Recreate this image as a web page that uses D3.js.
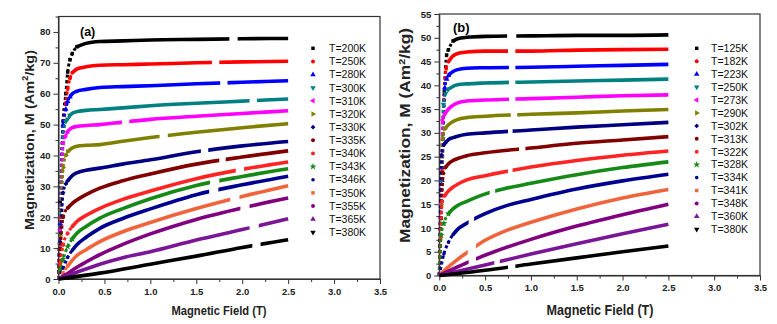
<!DOCTYPE html>
<html>
<head>
<meta charset="utf-8">
<script src="https://cdn.jsdelivr.net/npm/d3@7"></script>
<style>
  body { margin: 0; background: #fff; }
  text { font-family: Arial, "Liberation Sans", sans-serif; }
</style>
</head>
<body>
<svg id="chart" width="777" height="324"></svg>
<script>
// ---- data: [field (T), magnetization (Am2/kg)] ----
const tempsA = ['T=200K','T=250K','T=280K','T=300K','T=310K','T=320K','T=330K','T=335K',
                'T=340K','T=343K','T=346K','T=350K','T=355K','T=365K','T=380K'];
const magA = [
  [[0,0],[0.02,25],[0.05,51],[0.08,60],[0.1,67],[0.125,71],[0.15,73],[0.2,75.2],[0.3,76.3],[0.45,76.9],[0.7,77.1],[1,77.4],[1.5,77.6],[2,77.8],[2.5,77.9]],
  [[0,0],[0.02,20],[0.05,46],[0.08,57],[0.1,61.5],[0.125,65],[0.15,66.8],[0.2,68],[0.3,68.7],[0.45,69.2],[0.7,69.4],[1,69.6],[1.5,70],[2,70.3],[2.5,70.5]],
  [[0,0],[0.02,18],[0.05,50],[0.08,55],[0.1,57.5],[0.125,59],[0.15,60],[0.2,60.8],[0.3,61.4],[0.45,62],[0.7,62.3],[1,62.6],[1.5,63.2],[2,63.7],[2.5,64.2]],
  [[0,0],[0.02,22],[0.05,46],[0.08,51],[0.1,51.8],[0.125,53],[0.15,53.7],[0.2,54.2],[0.3,54.6],[0.45,54.9],[0.7,55.4],[1,56.1],[1.5,56.9],[2,57.6],[2.5,58.3]],
  [[0,0],[0.02,16],[0.05,44],[0.08,46.5],[0.1,47.8],[0.125,48.5],[0.15,49],[0.2,49.4],[0.3,49.7],[0.45,50],[0.7,50.8],[1,51.7],[1.5,52.7],[2,53.6],[2.5,54.5]],
  [[0,0],[0.02,14],[0.05,36],[0.08,40],[0.1,41.2],[0.125,41.9],[0.15,42.4],[0.2,43],[0.3,43.3],[0.45,43.5],[0.7,44.6],[1,45.8],[1.5,47.5],[2,49],[2.5,50.3]],
  [[0,0],[0.02,12],[0.05,28],[0.08,30.8],[0.1,31.8],[0.15,33.5],[0.2,34.4],[0.3,35.2],[0.45,35.9],[0.7,37.2],[1,38.6],[1.5,41.2],[2,43.1],[2.5,44.5]],
  [[0,0],[0.02,10],[0.05,20],[0.1,23],[0.15,24.5],[0.2,25.6],[0.3,27.3],[0.45,29.4],[0.7,31.8],[1,34],[1.5,37.2],[2,39.5],[2.5,41.5]],
  [[0,0],[0.02,5],[0.05,11],[0.1,14.8],[0.15,17],[0.2,18.6],[0.3,20.6],[0.45,22.9],[0.7,25.8],[1,28.5],[1.5,32.5],[2,35.5],[2.5,37.9]],
  [[0,0],[0.02,3],[0.05,6.5],[0.1,10.5],[0.15,13],[0.2,14.8],[0.3,17],[0.45,19.7],[0.7,22.8],[1,26],[1.5,30.3],[2,33.2],[2.5,35.7]],
  [[0,0],[0.05,3.5],[0.1,7],[0.15,9.3],[0.2,11.1],[0.3,13.5],[0.45,16.4],[0.7,19.6],[1,22.7],[1.5,27.3],[2,30.5],[2.5,33.3]],
  [[0,0],[0.05,2],[0.1,4.2],[0.2,7.6],[0.3,9.5],[0.45,12.1],[0.7,15.3],[1,18.3],[1.5,22.8],[2,26.7],[2.5,30.2]],
  [[0,0],[0.1,1.8],[0.2,3.8],[0.3,5.5],[0.45,7.9],[0.7,11.2],[1,14.6],[1.5,19.3],[2,23],[2.5,26.2]],
  [[0,0],[0.2,2.2],[0.45,4.8],[0.7,6.9],[1,8.8],[1.5,12.6],[2,16],[2.5,19.5]],
  [[0,0],[0.45,1.9],[1,4.8],[1.5,7.4],[2,10.2],[2.5,12.7]]
];
// field ranges with no measured points (the breaks in each curve)
const gapsA = [[[1.86,1.95]],[[1.67,1.75]],[[1.76,1.84]],[[2.08,2.16]],[[0.69,0.77]],[[1.10,1.19]],[[1.55,1.63]],
               [[1.75,1.82]],[[1.93,2.02]],[[1.65,1.75]],[[1.64,1.74]],[[1.87,1.97]],[[1.98,2.08]],[[2.08,2.18]],[[2.11,2.20]]];

const tempsB = ['T=125K','T=182K','T=223K','T=250K','T=273K','T=290K','T=302K','T=313K',
                'T=322K','T=328K','T=334K','T=341K','T=348K','T=360K','T=380K'];
const magB = [
  [[0,0],[0.03,25],[0.055,38.7],[0.08,46.4],[0.1,47.5],[0.15,49.3],[0.2,49.8],[0.3,50.1],[0.5,50.3],[1,50.4],[1.5,50.5],[2,50.5],[2.5,50.6]],
  [[0,0],[0.03,22],[0.05,37],[0.075,43.5],[0.1,45],[0.15,46.2],[0.2,46.7],[0.3,47],[0.5,47.2],[1,47.2],[1.5,47.4],[2,47.5],[2.5,47.6]],
  [[0,0],[0.03,20],[0.06,39.5],[0.08,41.3],[0.1,42.1],[0.15,42.9],[0.2,43.3],[0.3,43.6],[0.5,43.7],[1,43.8],[1.5,44],[2,44.2],[2.5,44.4]],
  [[0,0],[0.025,20],[0.045,36],[0.07,38.3],[0.1,39.2],[0.15,39.8],[0.2,40.1],[0.3,40.3],[0.5,40.5],[1,40.7],[1.5,40.9],[2,41.1],[2.5,41.3]],
  [[0,0],[0.02,15],[0.037,32.7],[0.06,34],[0.1,35],[0.15,35.8],[0.2,36.3],[0.3,36.7],[0.5,36.9],[1,37.2],[1.5,37.5],[2,37.8],[2.5,38]],
  [[0,0],[0.02,15],[0.037,29],[0.06,30.8],[0.1,31.7],[0.15,32.4],[0.2,32.8],[0.3,33.2],[0.5,33.5],[1,33.9],[1.5,34.2],[2,34.6],[2.5,34.9]],
  [[0,0],[0.015,18],[0.026,25.4],[0.05,27.5],[0.08,28.2],[0.1,28.6],[0.15,29],[0.2,29.3],[0.3,29.7],[0.5,30],[1,30.6],[1.5,31.2],[2,31.7],[2.5,32.2]],
  [[0,0],[0.02,12],[0.044,21.5],[0.07,22.8],[0.1,23.5],[0.15,24.2],[0.2,24.6],[0.3,25.2],[0.5,25.8],[1,26.8],[1.5,27.8],[2,28.5],[2.5,29.2]],
  [[0,0],[0.015,8],[0.03,15.5],[0.06,16.8],[0.1,17.8],[0.15,18.6],[0.2,19.2],[0.3,20.1],[0.5,21],[1,22.8],[1.5,24.2],[2,25.3],[2.5,26.2]],
  [[0,0],[0.02,8.5],[0.05,11],[0.1,13],[0.15,14],[0.2,14.7],[0.3,15.6],[0.45,16.8],[0.7,18.2],[1,19.4],[1.5,21.2],[2,22.7],[2.5,23.9]],
  [[0,0],[0.05,4.5],[0.1,7],[0.15,8.6],[0.2,9.7],[0.3,11],[0.5,13],[0.75,14.8],[1,16],[1.5,18.2],[2,19.9],[2.5,21.3]],
  [[0,0],[0.1,1.8],[0.2,3.4],[0.3,4.8],[0.5,7.4],[0.75,9.6],[1,11.2],[1.5,14],[2,16.3],[2.5,18.1]],
  [[0,0],[0.2,1.8],[0.4,3.5],[0.6,5],[1,7.6],[1.5,10.4],[2,12.8],[2.5,15]],
  [[0,0],[0.5,2.2],[1,4.5],[1.5,6.7],[2,8.8],[2.5,10.8]],
  [[0,0],[0.5,1.1],[1,2.4],[1.5,3.7],[2,5],[2.5,6.2]]
];
const gapsB = [[[0.74,0.84]],[[0.75,0.83]],[[0.76,0.83]],[[0.76,0.83]],[[0.76,0.83]],[[0.78,0.85]],[[0.75,0.80]],
               [[0.87,0.94]],[[0.75,0.80]],[[0.55,0.61]],[[0.32,0.38]],[[0.31,0.40]],[[0.32,0.40]],[[0.60,0.66]],[[0.75,0.83]]];

const xTicks = [0, 0.5, 1, 1.5, 2, 2.5, 3, 3.5];
const yTicksA = [0, 10, 20, 30, 40, 50, 60, 70, 80];
const yTicksB = [0, 5, 10, 15, 20, 25, 30, 35, 40, 45, 50, 55];

// ---- styles (Origin-like colour / symbol cycle) ----
const colors = ['#000000','#ff0000','#0000ff','#008080','#ff00ff','#808000','#000080','#800000',
                '#ff2424','#168a16','#000090','#f0643c','#800080','#7a1696','#000000'];
const shapes = ['square','circle','up','down','left','right','diamond','circle',
                'circle','star','hex','square','circle','up','down'];

const svg = d3.select('#chart');

function marker(sel, kind, color) {
  let type = d3.symbolCircle, size = 12, rot = 0;
  if (kind == 'square') { type = d3.symbolSquare; size = 12; }
  if (kind == 'diamond') { type = d3.symbolSquare; size = 11; rot = 45; }
  if (kind == 'up') { type = d3.symbolTriangle; size = 13; }
  if (kind == 'down') { type = d3.symbolTriangle; size = 13; rot = 180; }
  if (kind == 'left') { type = d3.symbolTriangle; size = 13; rot = -90; }
  if (kind == 'right') { type = d3.symbolTriangle; size = 13; rot = 90; }
  if (kind == 'star') { type = d3.symbolStar; size = 16; }
  if (kind == 'hex') { type = d3.symbolCircle; size = 10; }
  sel.append('path')
    .attr('d', d3.symbol().type(type).size(size)())
    .attr('fill', color)
    .attr('transform', `rotate(${rot})`);
}

function drawPanel(p) {
  let x = d3.scaleLinear().domain([0, 3.5]).range(p.xr);
  let y = d3.scaleLinear().domain(p.yd).range(p.yr);
  let g = svg.append('g');

  // minor ticks
  let xMinor = d3.range(0.25, 3.5, 0.5);
  g.append('g').attr('transform', `translate(0,${p.yr[0]})`)
    .call(d3.axisBottom(x).tickValues(xMinor).tickSize(3).tickFormat(''))
    .call(a => a.select('.domain').remove());
  g.append('g').attr('transform', `translate(${p.xr[0]},0)`)
    .call(d3.axisLeft(y).tickValues(p.yMinor).tickSize(3).tickFormat(''))
    .call(a => a.select('.domain').remove());

  // major axes
  let xAxis = g.append('g').attr('transform', `translate(0,${p.yr[0]})`)
    .call(d3.axisBottom(x).tickValues(xTicks).tickFormat(d3.format('.1f')).tickSize(5).tickSizeOuter(0).tickPadding(4));
  let yAxis = g.append('g').attr('transform', `translate(${p.xr[0]},0)`)
    .call(d3.axisLeft(y).tickValues(p.yTicks).tickFormat(d3.format('d')).tickSize(5).tickSizeOuter(0).tickPadding(3));
  [xAxis, yAxis].forEach(a => {
    a.selectAll('text').attr('font-size', 9.5).attr('font-weight', 'bold').attr('fill', '#222');
    a.select('.domain').attr('stroke', '#333');
  });
  g.selectAll('.tick line').attr('stroke', '#333');

  // frame
  g.append('rect')
    .attr('x', p.xr[0]).attr('y', p.yr[1])
    .attr('width', p.xr[1] - p.xr[0]).attr('height', p.yr[0] - p.yr[1])
    .attr('fill', 'none').attr('stroke', '#333').attr('stroke-width', 1.2);

  let line = d3.line().x(d => x(d[0])).y(d => y(d[1])).curve(d3.curveMonotoneX);

  p.mags.forEach((pts, i) => {
    // clip out the field ranges where the curve has no points
    let edges = [-0.2];
    p.gaps[i].forEach(gp => { edges.push(gp[0], gp[1]); });
    edges.push(3.6);
    let clipId = `clip-${p.id}-${i}`;
    let cp = svg.append('clipPath').attr('id', clipId);
    for (let k = 0; k < edges.length; k += 2) {
      cp.append('rect').attr('x', x(edges[k])).attr('y', 0)
        .attr('width', x(edges[k + 1]) - x(edges[k])).attr('height', 324);
    }
    let s = g.append('g').attr('clip-path', `url(#${clipId})`);

    // where the rise is steep the measured points sit apart: draw that part dotted
    let k = 0;
    for (let j = 0; j < pts.length - 1; j++) {
      let dx = x(pts[j + 1][0]) - x(pts[j][0]);
      let dy = y(pts[j][1]) - y(pts[j + 1][1]);
      if (dy / dx > 1.4) k = j + 1;
    }
    if (k > 0) {
      s.append('path').datum(pts.slice(0, k + 1))
        .attr('d', line)
        .attr('fill', 'none')
        .attr('stroke', colors[i])
        .attr('stroke-width', 3)
        .attr('stroke-dasharray', '3,2.6');
      s.selectAll('g.pt').data(pts.slice(1, k + 1)).enter().append('g')
        .attr('class', 'pt')
        .attr('transform', d => `translate(${x(d[0])},${y(d[1])})`)
        .each(function () { marker(d3.select(this), shapes[i], colors[i]); });
    }
    s.append('path').datum(pts.slice(k))
      .attr('d', line)
      .attr('fill', 'none')
      .attr('stroke', colors[i])
      .attr('stroke-width', 3.6);
  });

  // legend
  p.temps.forEach((t, i) => {
    let ly = p.leg.y0 + i * p.leg.dy;
    let m = g.append('g').attr('transform', `translate(${p.leg.mx},${ly})`);
    marker(m, shapes[i], colors[i]);
    g.append('text').attr('x', p.leg.tx).attr('y', ly).attr('dy', '0.36em')
      .attr('font-size', 10.5).attr('fill', '#111').text(t);
  });

  // panel tag
  g.append('text').attr('x', p.tag.x).attr('y', p.tag.y)
    .attr('font-size', p.tag.size).attr('font-weight', 'bold').text(p.tag.text);

  // axis titles
  g.append('text')
    .attr('x', p.xt.x).attr('y', p.xt.y)
    .attr('text-anchor', 'middle').attr('font-size', p.xt.size).attr('font-weight', 'bold')
    .attr('textLength', p.xt.len).attr('lengthAdjust', 'spacingAndGlyphs')
    .attr('fill', '#222')
    .text('Magnetic Field (T)');
  let yt = g.append('text')
    .attr('transform', `translate(${p.yt.x},${p.yt.y}) rotate(-90)`)
    .attr('text-anchor', 'middle').attr('font-size', p.yt.size).attr('font-weight', 'bold')
    .attr('dy', '0.35em')
    .attr('textLength', p.yt.len).attr('lengthAdjust', 'spacingAndGlyphs')
    .attr('fill', '#222');
  yt.append('tspan').text('Magnetization, M (Am');
  yt.append('tspan').attr('font-size', p.yt.size * 0.62).attr('dy', -p.yt.size * 0.4).text('2');
  yt.append('tspan').attr('dy', p.yt.size * 0.4).text('/kg)');
}

drawPanel({
  id: 'a', xr: [58.5, 380], yd: [0, 85], yr: [279, 16.5],
  yTicks: yTicksA, yMinor: d3.range(5, 90, 10),
  mags: magA, gaps: gapsA, temps: tempsA,
  leg: { mx: 313, tx: 329, y0: 48.3, dy: 13.14 },
  tag: { x: 80, y: 36, size: 12.5, text: '(a)' },
  xt: { x: 219, y: 314.5, size: 13.5, len: 95 },
  yt: { x: 29, y: 140, size: 13.5, len: 180 }
});

drawPanel({
  id: 'b', xr: [439.3, 760], yd: [0, 55], yr: [275.5, 14],
  yTicks: yTicksB, yMinor: d3.range(2.5, 55, 5),
  mags: magB, gaps: gapsB, temps: tempsB,
  leg: { mx: 696.7, tx: 711, y0: 48.3, dy: 12.93 },
  tag: { x: 453, y: 31.5, size: 13, text: '(b)' },
  xt: { x: 600, y: 314.5, size: 14, len: 107 },
  yt: { x: 405.5, y: 135.5, size: 14, len: 215 }
});
</script>
</body>
</html>
